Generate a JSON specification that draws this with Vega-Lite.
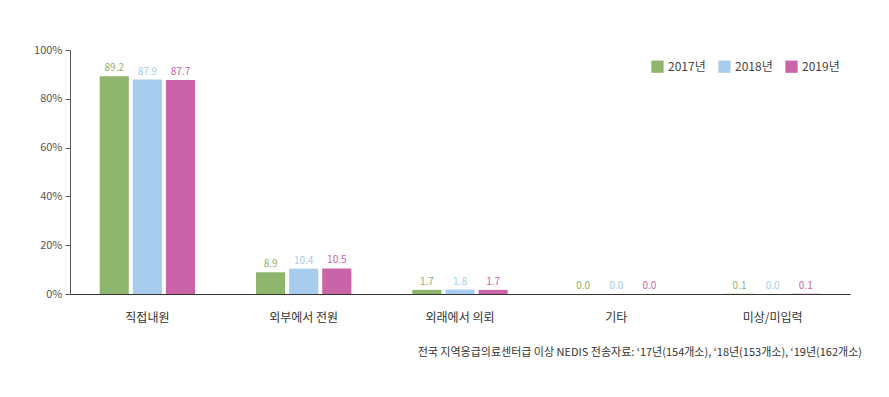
{
  "$schema": "https://vega.github.io/schema/vega-lite/v6.json",
  "width": 780,
  "height": 244,
  "autosize": "none",
  "padding": {"left": 70, "top": 50, "right": 39, "bottom": 103},
  "background": "white",
  "config": {
    "view": {"stroke": null},
    "font": "Noto Sans CJK KR"
  },
  "title": {
    "text": "전국 지역응급의료센터급 이상 NEDIS 전송자료: ‘17년(154개소), ‘18년(153개소), ‘19년(162개소)",
    "orient": "bottom",
    "anchor": "end",
    "fontSize": 11,
    "fontWeight": "normal",
    "color": "#333333",
    "offset": 24,
    "dx": 12
  },
  "data": {
    "values": [
      {"cat": "직접내원", "year": "2017년", "v": 89.2},
      {"cat": "직접내원", "year": "2018년", "v": 87.9},
      {"cat": "직접내원", "year": "2019년", "v": 87.7},
      {"cat": "외부에서 전원", "year": "2017년", "v": 8.9},
      {"cat": "외부에서 전원", "year": "2018년", "v": 10.4},
      {"cat": "외부에서 전원", "year": "2019년", "v": 10.5},
      {"cat": "외래에서 의뢰", "year": "2017년", "v": 1.7},
      {"cat": "외래에서 의뢰", "year": "2018년", "v": 1.8},
      {"cat": "외래에서 의뢰", "year": "2019년", "v": 1.7},
      {"cat": "기타", "year": "2017년", "v": 0.0},
      {"cat": "기타", "year": "2018년", "v": 0.0},
      {"cat": "기타", "year": "2019년", "v": 0.0},
      {"cat": "미상/미입력", "year": "2017년", "v": 0.1},
      {"cat": "미상/미입력", "year": "2018년", "v": 0.0},
      {"cat": "미상/미입력", "year": "2019년", "v": 0.1}
    ]
  },
  "encoding": {
    "x": {
      "field": "cat", "type": "nominal", "sort": null,
      "scale": {"paddingInner": 0.39, "paddingOuter": 0.19},
      "axis": {"title": null, "labelAngle": 0, "ticks": false, "labelPadding": 18, "labelFontSize": 12, "labelColor": "#333333", "domainColor": "#333333", "domainWidth": 1.2}
    },
    "xOffset": {"field": "year", "type": "nominal", "scale": {"paddingInner": 0.12}},
    "y": {
      "field": "v", "type": "quantitative",
      "scale": {"domain": [0, 100]},
      "axis": {"title": null, "values": [0, 20, 40, 60, 80, 100], "labelExpr": "datum.value + '%'", "grid": false, "tickSize": 5, "tickColor": "#555555", "domainColor": "#555555", "labelColor": "#555555", "labelFontSize": 11, "labelPadding": 3}
    },
    "color": {
      "field": "year", "type": "nominal",
      "scale": {"domain": ["2017년", "2018년", "2019년"], "range": ["#8db56b", "#a8ccee", "#c964a8"]},
      "legend": {"title": null, "orient": "top-right", "direction": "horizontal", "symbolType": "square", "symbolSize": 150, "labelFontSize": 12, "labelColor": "#444444", "offset": 10, "columnPadding": 12, "labelOffset": 4, "symbolStrokeWidth": 0}
    }
  },
  "layer": [
    {"mark": {"type": "bar"}},
    {
      "mark": {"type": "text", "dy": -8, "fontSize": 10},
      "encoding": {
        "text": {"field": "v", "type": "quantitative", "format": ".1f"}
      }
    }
  ]
}
